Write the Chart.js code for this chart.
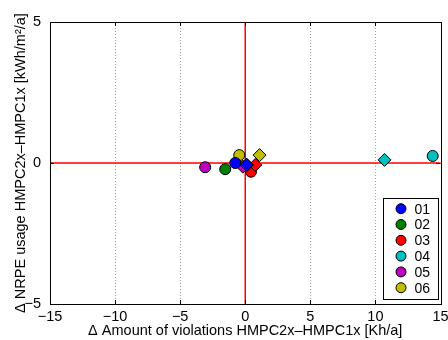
<!DOCTYPE html>
<html>
<head>
<meta charset="utf-8">
<script src="https://cdn.jsdelivr.net/npm/chart.js@4.4.0/dist/chart.umd.min.js"></script>
<style>
  html, body { margin: 0; padding: 0; background: #fff; }
  #wrap { width: 448px; height: 340px; }
</style>
</head>
<body>
<div id="wrap"><canvas id="scatter-canvas" width="448" height="340"></canvas></div>
<script>
// series names and colours (matlab-ish)
const seriesNames = ['01', '02', '03', '04', '05', '06'];
const seriesColors = ['#0000ff', '#008000', '#ff0000', '#00bfbf', '#bf00bf', '#bfbf00'];

// circle markers (variant a) and diamond markers (variant b)
const circleX = [-0.77, -1.54, 0.44, 14.4, -3.08, -0.46];
const circleY = [0.0, -0.22, -0.31, 0.25, -0.15, 0.28];
const diamondX = [0.1, 0.13, 0.77, 10.7, -0.18, 1.1];
const diamondY = [-0.06, -0.07, -0.07, 0.11, -0.13, 0.28];

const xTicks = [-15, -10, -5, 0, 5, 10, 15];
const yTicks = [-5, 0, 5];

const fontFam = '"Liberation Sans", Arial, sans-serif';

function minus(v) {
  return v < 0 ? '\u2212' + Math.abs(v) : String(v);
}

let datasets = seriesNames.map((name, i) => ({
  label: name,
  data: [{ x: circleX[i], y: circleY[i] }, { x: diamondX[i], y: diamondY[i] }],
  pointStyle: ['circle', 'rectRot'],
  pointRadius: [5.5, 6.5],
  backgroundColor: seriesColors[i],
  borderColor: '#000',
  borderWidth: 1,
  showLine: false
}));

// red zero lines + black box around the axes
const framePlugin = {
  id: 'frame',
  beforeDatasetsDraw(chart) {
    let ctx = chart.ctx;
    let a = chart.chartArea;
    let sx = chart.scales.x, sy = chart.scales.y;
    ctx.save();
    // dotted vertical grid
    ctx.strokeStyle = '#a0a0a0';
    ctx.lineWidth = 1;
    ctx.setLineDash([1, 2]);
    ctx.beginPath();
    xTicks.forEach(t => {
      let px = Math.round(sx.getPixelForValue(t)) + 0.5;
      ctx.moveTo(px, a.top); ctx.lineTo(px, a.bottom);
    });
    ctx.stroke();
    ctx.setLineDash([]);
    let x0 = sx.getPixelForValue(0);
    let y0 = sy.getPixelForValue(0);
    ctx.strokeStyle = '#ff0000';
    ctx.lineWidth = 1.5;
    ctx.beginPath();
    ctx.moveTo(a.left, y0); ctx.lineTo(a.right, y0);
    ctx.moveTo(x0, a.top); ctx.lineTo(x0, a.bottom);
    ctx.stroke();
    // tick marks pointing inwards
    ctx.strokeStyle = '#000';
    ctx.lineWidth = 1;
    ctx.beginPath();
    xTicks.forEach(t => {
      let px = Math.round(sx.getPixelForValue(t)) + 0.5;
      ctx.moveTo(px, a.bottom); ctx.lineTo(px, a.bottom - 4);
      ctx.moveTo(px, a.top); ctx.lineTo(px, a.top + 4);
    });
    yTicks.forEach(t => {
      let py = Math.round(sy.getPixelForValue(t)) + 0.5;
      ctx.moveTo(a.left, py); ctx.lineTo(a.left + 4, py);
      ctx.moveTo(a.right, py); ctx.lineTo(a.right - 4, py);
    });
    ctx.stroke();
    ctx.restore();
  },
  afterDraw(chart) {
    let ctx = chart.ctx;
    let a = chart.chartArea;
    ctx.save();
    ctx.strokeStyle = '#000';
    ctx.lineWidth = 1;
    ctx.strokeRect(Math.round(a.left) + 0.5, Math.round(a.top) + 0.5,
      Math.round(a.right - a.left), Math.round(a.bottom - a.top));

    // legend box, bottom right inside the axes
    let w = 55, rowH = 15.8, h = rowH * seriesNames.length + 6;
    let lx = a.right - w - 3, ly = a.bottom - h - 5;
    ctx.fillStyle = '#fff';
    ctx.fillRect(lx, ly, w, h);
    ctx.strokeRect(Math.round(lx) + 0.5, Math.round(ly) + 0.5, w, Math.round(h));
    ctx.font = '14px ' + fontFam;
    ctx.textBaseline = 'middle';
    seriesNames.forEach((name, i) => {
      let cy = ly + 10.5 + i * rowH;
      ctx.beginPath();
      ctx.arc(lx + 18.5, cy, 5, 0, Math.PI * 2);
      ctx.fillStyle = seriesColors[i];
      ctx.fill();
      ctx.strokeStyle = '#000';
      ctx.stroke();
      ctx.fillStyle = '#000';
      ctx.fillText(name, lx + 32, cy + 1);
    });
    ctx.restore();
  }
};

new Chart('scatter-canvas', {
  type: 'scatter',
  data: { datasets: datasets },
  options: {
    responsive: false,
    animation: false,
    devicePixelRatio: 1,
    layout: { padding: { left: 0, top: 22, right: 0, bottom: 0 } },
    plugins: {
      legend: { display: false },
      tooltip: { enabled: false }
    },
    scales: {
      x: {
        type: 'linear',
        min: -15, max: 15,
        afterBuildTicks: (s) => { s.ticks = xTicks.map(v => ({ value: v })); },
        afterFit: (s) => { s.height = 36; },
        ticks: {
          color: '#000',
          padding: -2,
          maxRotation: 0,
          font: { family: fontFam, size: 14.5, lineHeight: 1 },
          callback: (v) => minus(v)
        },
        grid: { display: false },
        border: { display: false },
        title: {
          display: true,
          text: '\u0394 Amount of violations HMPC2x\u2013HMPC1x [Kh/a]',
          color: '#000',
          padding: { top: 0, bottom: 0 },
          font: { family: fontFam, size: 14.5 }
        }
      },
      y: {
        type: 'linear',
        min: -5, max: 5,
        afterBuildTicks: (s) => { s.ticks = yTicks.map(v => ({ value: v })); },
        afterFit: (s) => { s.width = 50; },
        ticks: {
          color: '#000',
          padding: 1,
          font: { family: fontFam, size: 14.5 },
          callback: (v) => minus(v)
        },
        grid: { display: false },
        border: { display: false },
        title: {
          display: true,
          text: '\u0394 NRPE usage HMPC2x\u2013HMPC1x [kWh/m\u00b2/a]',
          color: '#000',
          padding: { top: 12, bottom: 0 },
          font: { family: fontFam, size: 14.5 }
        }
      }
    }
  },
  plugins: [framePlugin]
});
</script>
</body>
</html>
